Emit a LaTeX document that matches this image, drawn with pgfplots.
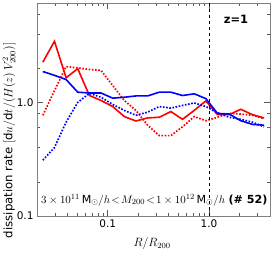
\documentclass[border=0pt]{standalone}
\usepackage{fontspec}
\setmainfont{DejaVu Sans}
\usepackage{pgfplots}
\pgfplotsset{compat=1.18}

\pgfplotstableread{
x        rs    rd    bs    bd
0.02283  2.26  0.77  1.87  0.31
0.02975  3.45  1.27  1.73  0.40
0.03877  1.65  2.07  1.59  0.67
0.05051  1.98  2.01  1.23  1.00
0.06582  1.15  1.95  1.21  1.20
0.08577  1.04  1.91  1.21  1.11
0.1118   0.92  1.41  1.09  0.96
0.1456   0.75  1.04  1.11  0.85
0.1898   0.686 0.85  1.14  0.77
0.2473   0.73  0.63  1.14  0.82
0.3223   0.74  0.51  1.23  0.92
0.4200   0.83  0.51  1.23  0.89
0.5473   0.71  0.61  1.15  0.94
0.7135   0.85  0.75  1.19  0.99
0.9300   1.03  0.69  1.08  0.92
1.2119   0.78  0.74  0.80  0.81
1.579    0.78  0.80  0.79  0.74
2.058    0.87  0.79  0.69  0.71
2.682    0.78  0.77  0.64  0.67
3.495    0.73  0.72  0.63  0.61
}\datatable

\begin{document}
\begin{tikzpicture}
\begin{axis}[
  scale only axis, width=233pt, height=213pt,
  xmode=log, ymode=log,
  xmin=0.02, xmax=4, ymin=0.1, ymax=7.5,
  xtick={0.1,1}, xticklabels={0.1,1.0},
  ytick={0.1,1}, yticklabels={0.1,1.0},
  minor xtick={0.03,0.04,0.05,0.06,0.07,0.08,0.09,0.2,0.3,0.4,0.5,0.6,0.7,0.8,0.9,2,3,4},
  minor ytick={0.2,0.4,0.6,0.8,2,4,6},
  tick align=inside,
  major tick length=6pt, minor tick length=3pt,
  axis line style={gray, line width=0.8pt},
  every tick/.style={gray!70!black, line width=0.6pt},
  tick label style={font=\fontsize{10.5}{12}\selectfont},
  /pgf/number format/assume math mode=true,
  xlabel={$R/R_{200}$},
  xlabel style={at={(rel axis cs:0.494,-0.131)}, anchor=center, font=\fontsize{11.5}{13}\selectfont},
  ylabel={dissipation rate $[\mathrm{d}u/\mathrm{d}t/(H(z)\,V_{200}^2)]$},
  ylabel style={at={(rel axis cs:-0.12,0.355)}, anchor=center, rotate=0, font=\fontsize{11.7}{13}\selectfont},
  clip=true,
]
\addplot[red, line width=1.6pt] table[x=x, y=rs] {\datatable};
\addplot[red, line width=1.7pt, dash pattern=on 1.6pt off 1.6pt] table[x=x, y=rd] {\datatable};
\addplot[blue, line width=1.6pt] table[x=x, y=bs] {\datatable};
\addplot[blue, line width=1.7pt, dash pattern=on 1.6pt off 1.6pt] table[x=x, y=bd] {\datatable};
\addplot[black, line width=1pt, dashed] coordinates {(1,0.1) (1,7.5)};
\node[font=\bfseries\fontsize{11.5}{13}\selectfont] at (rel axis cs:0.854,0.925) {z=1};
\node[anchor=west, font=\fontsize{11.1}{13}\selectfont, inner sep=0pt] at (rel axis cs:0.017,0.075)
  {$3\times10^{11}\,\mathrm{M}_{\odot}/h\!<\!M_{200}\!<\!1\times10^{12}\,\mathrm{M}_{\odot}/h$\ \textbf{(\# 52)}};
\end{axis}
\pgfresetboundingbox
\useasboundingbox ([xshift=-37pt,yshift=-57pt]current axis.south west) rectangle ([xshift=4pt,yshift=3pt]current axis.north east);
\end{tikzpicture}
\end{document}
